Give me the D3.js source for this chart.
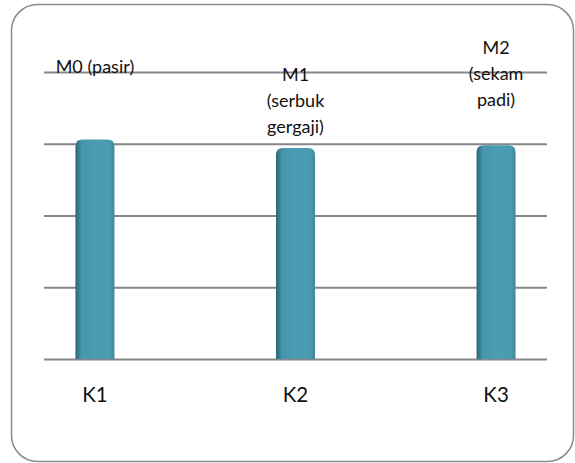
<!DOCTYPE html>
<html>
<head>
<meta charset="utf-8">
<script src="https://cdn.jsdelivr.net/npm/d3@7"></script>
<style>
  html, body { margin: 0; padding: 0; background: #fff; }
  svg { display: block; }
  text { font-family: Lato, "Open Sans", sans-serif; fill: #111; }
</style>
</head>
<body>
<svg id="chart" width="575" height="463"></svg>
<script>
// Categories and values
const categories = ["K1", "K2", "K3"];
const values = [3.06, 2.94, 2.98];
const tickValues = [0, 1, 2, 3, 4];
// Label text above each bar, one entry per line
const barLabels = [
  ["M0 (pasir)"],
  ["M1", "(serbuk", "gergaji)"],
  ["M2", "(sekam", "padi)"]
];

const svg = d3.select("#chart");

// Rounded outer frame
svg.append("rect")
  .attr("x", 11.5).attr("y", 4.5)
  .attr("width", 562).attr("height", 457)
  .attr("rx", 26).attr("ry", 26)
  .attr("fill", "#fff")
  .attr("stroke", "#8a8a8a")
  .attr("stroke-width", 1.5);

const plot = { left: 44, right: 547, top: 72, bottom: 359 };

const x = d3.scalePoint()
  .domain(categories)
  .range([plot.left, plot.right])
  .padding(0.254);

const y = d3.scaleLinear()
  .domain([0, 4])
  .range([plot.bottom, plot.top]);

// Horizontal gridlines
const yAxis = d3.axisLeft(y)
  .tickValues(tickValues)
  .tickSize(-(plot.right - plot.left))
  .tickFormat("");
const gy = svg.append("g")
  .attr("transform", `translate(${plot.left},0)`)
  .call(yAxis);
gy.select(".domain").remove();
gy.selectAll(".tick line")
  .attr("stroke", "#878787")
  .attr("stroke-width", 2);

// Bar gradient: darker left edge for a cylinder look
const defs = svg.append("defs");
const grad = defs.append("linearGradient")
  .attr("id", "barFill")
  .attr("x1", "0%").attr("x2", "100%")
  .attr("y1", "0%").attr("y2", "0%");
[
  [0, "#2a6677"], [0.07, "#37798c"], [0.16, "#4696ac"],
  [0.5, "#4b9db3"], [0.88, "#4a9ab0"], [1, "#3f889c"]
].forEach(([o, c]) => grad.append("stop").attr("offset", o).attr("stop-color", c));

const barW = 39;
const r = 7;
function barPath(cx, top, bottom) {
  const l = cx - barW / 2, rr = cx + barW / 2;
  return `M${l},${bottom} L${l},${top + r} Q${l},${top} ${l + r},${top} ` +
    `L${rr - r},${top} Q${rr},${top} ${rr},${top + r} L${rr},${bottom} Z`;
}

svg.append("g").selectAll("path")
  .data(categories)
  .join("path")
  .attr("d", (d, i) => barPath(x(d), y(values[i]), y(0)))
  .attr("fill", "url(#barFill)");

// Category labels below the baseline
svg.append("g").selectAll("text")
  .data(categories)
  .join("text")
  .attr("x", d => x(d))
  .attr("y", 402)
  .attr("text-anchor", "middle")
  .attr("font-size", 20.5)
  .text(d => d);

// Series labels placed above the bars
const labelBaseline = [73, 81, 54];
const lineGap = 26;
barLabels.forEach((lines, i) => {
  const t = svg.append("text")
    .attr("text-anchor", "middle")
    .attr("font-size", 18);
  lines.forEach((s, j) => {
    t.append("tspan")
      .attr("x", x(categories[i]))
      .attr("y", labelBaseline[i] + j * lineGap)
      .text(s);
  });
});
</script>
</body>
</html>
